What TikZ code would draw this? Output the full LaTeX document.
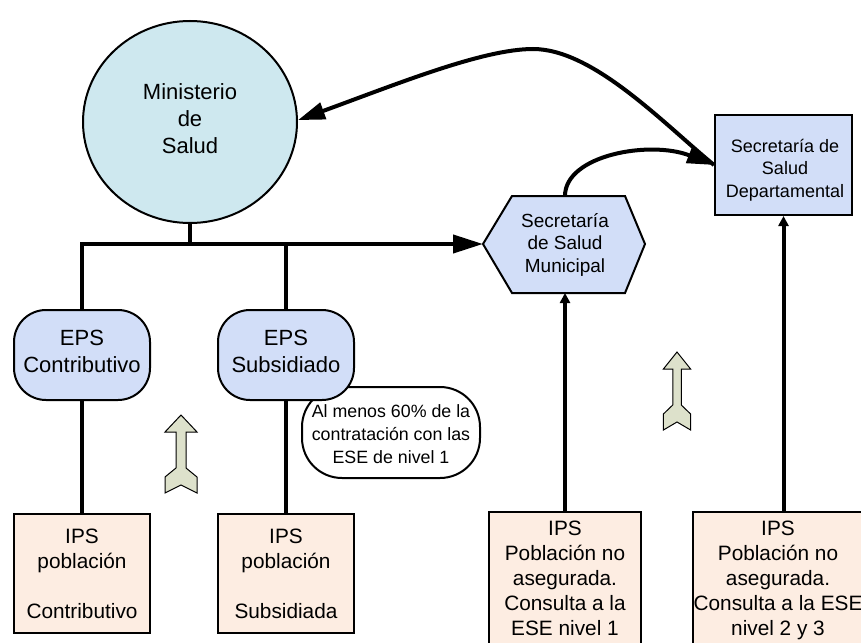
\documentclass[tikz,border=0pt]{standalone}
\usepackage{fontspec}
\setmainfont{Liberation Sans}
\usetikzlibrary{arrows.meta,shapes.geometric}

\definecolor{minfill}{RGB}{206,232,239}
\definecolor{bluefill}{RGB}{210,222,248}
\definecolor{ipsfill}{RGB}{253,237,226}
\definecolor{arrowfill}{RGB}{221,225,203}

\tikzset{
  shape line/.style={draw=black, line width=2pt},
  epsbox/.style={shape line, fill=bluefill, rectangle, rounded corners=32pt,
    minimum width=136pt, minimum height=90pt, inner sep=0pt},
  ipsbox/.style={shape line, fill=ipsfill, rectangle, inner sep=0pt},
  txt/.style={align=center, anchor=north, inner sep=0pt},
  link/.style={draw=black, line width=4pt, line join=miter},
  blockarrow/.pic={
    \draw[line width=1pt, fill=arrowfill, line join=miter]
      (0,0) -- (16,17) -- (5,17) -- (5,53) -- (16,62) -- (16,78) -- (0,70)
      -- (-16,78) -- (-16,62) -- (-5,53) -- (-5,17) -- (-16,17) -- cycle;
  }
}

\begin{document}
\begin{tikzpicture}[x=1pt, y=-1pt]
  \useasboundingbox (0,0) rectangle (861,642);
  \clip (0,0) rectangle (861,642);
  \fill[white] (0,0) rectangle (861,642);

  % note beside the subsidised EPS
  \node[shape line, fill=white, rectangle, rounded corners=40pt,
        minimum width=178pt, minimum height=91pt, inner sep=0pt] (note) at (391,432.5) {};
  \node[txt, font=\fontsize{17.8}{23}\selectfont] (note-t) at (391,400.9)
    {\strut Al menos 60\% de la\\contratación con las\\ESE de nivel 1};

  % ministry
  \node[shape line, fill=minfill, ellipse, minimum width=214pt, minimum height=202pt,
        inner sep=0pt] (min) at (190,122) {};
  \node[txt, font=\fontsize{22}{27}\selectfont] (min-t) at (190,80.1)
    {\strut Ministerio\\de\\Salud};

  % EPS
  \node[epsbox] (eps1) at (82,355) {};
  \node[txt, font=\fontsize{22}{27}\selectfont] (eps1-t) at (82,326.1)
    {\strut EPS\\Contributivo};
  \node[epsbox] (eps2) at (286,355) {};
  \node[txt, font=\fontsize{22}{27}\selectfont] (eps2-t) at (286,326.1)
    {\strut EPS\\Subsidiado};

  % IPS boxes
  \node[ipsbox, minimum width=136pt, minimum height=119pt] (ips1) at (82,573.5) {};
  \node[txt, font=\fontsize{20.8}{25}\selectfont] (ips1-t) at (82,525.5)
    {\strut IPS\\población\\\strut\\Contributivo};
  \node[ipsbox, minimum width=136pt, minimum height=119pt] (ips2) at (286,573.5) {};
  \node[txt, font=\fontsize{20.8}{25}\selectfont] (ips2-t) at (286,525.5)
    {\strut IPS\\población\\\strut\\Subsidiada};
  \node[ipsbox, minimum width=152pt, minimum height=148pt] (ips3) at (565,586) {};
  \node[txt, font=\fontsize{20.8}{25}\selectfont] (ips3-t) at (565,517.5)
    {\strut IPS\\Población no\\asegurada.\\Consulta a la\\ESE nivel 1};
  \node[ipsbox, minimum width=170pt, minimum height=148pt] (ips4) at (778,586) {};
  \node[txt, font=\fontsize{20.8}{25}\selectfont] (ips4-t) at (778,517.5)
    {\strut IPS\\Población no\\asegurada.\\Consulta a la ESE\\nivel 2 y 3};

  % municipal secretariat (hexagon)
  \coordinate (smun-w) at (483,244);
  \coordinate (smun-n) at (565,196);
  \coordinate (smun-s) at (565,293);
  \filldraw[shape line, fill=bluefill, line join=miter]
    (smun-w) -- (512,196) -- (625,196) -- (645,244) -- (625,293) -- (512,293) -- cycle;
  \node[txt, font=\fontsize{19}{22.5}\selectfont] (smun-t) at (565,211.25)
    {\strut Secretaría\\de Salud\\Municipal};

  % departmental secretariat
  \node[shape line, fill=bluefill, rectangle, minimum width=137pt, minimum height=100pt,
        inner sep=0pt] (sdep) at (783.5,165) {};
  \node[txt, font=\fontsize{18}{22.5}\selectfont] (sdep-t) at (785,136.25)
    {\strut Secretaría de\\Salud\\Departamental};

  % upward block arrows
  \pic at (181,415) {blockarrow};
  \pic[xscale=0.85] at (677,352) {blockarrow};

  % connectors
  \coordinate (hub) at (min.south |- smun-w);
  \draw[link] (min.south) -- (hub) -| (eps1.north);
  \draw[link] (eps2.north) -- (eps2.north |- hub);
  \draw[link, -{Triangle[length=30pt,width=18pt]}] (hub) -- (smun-w);
  \draw[link] (eps1.south) -- (ips1.north);
  \draw[link] (eps2.south) -- (ips2.north);
  \draw[link, -{Triangle[length=10pt,width=10pt]}] (ips3.north) -- (smun-s);
  \draw[link, -{Triangle[length=10pt,width=10pt]}] (sdep.south |- ips4.north) -- (sdep.south);
  \draw[link, -{Triangle[length=27pt,width=16pt]}]
    (smun-n) .. controls (565,155) and (650,140) .. (sdep.west);
  \draw[link, -{Triangle[length=27pt,width=17pt]}]
    (sdep.west) .. controls (663,123) and (593,49) .. (533,49)
    .. controls (483,49) and (397,84) .. (min.1);
\end{tikzpicture}
\end{document}
